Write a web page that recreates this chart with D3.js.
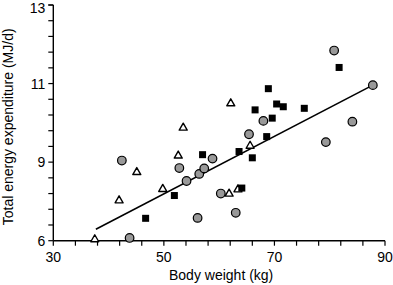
<!DOCTYPE html>
<html>
<head>
<meta charset="utf-8">
<script src="https://cdn.jsdelivr.net/npm/d3@7"></script>
<style>
  html, body { margin: 0; padding: 0; background: #fff; }
  svg { display: block; }
  text { font-family: "Liberation Sans", Arial, Helvetica, sans-serif; fill: #000; }
</style>
</head>
<body>
<svg id="chart" width="393" height="285"></svg>
<script>
// ---- data ----
const triWeight = [37.5, 41.9, 45.1, 49.8, 52.6, 53.5, 62.1, 61.8, 63.4, 65.6];
const triTEE    = [7.05, 8.04, 8.76, 8.33, 9.18, 9.89, 10.51, 8.21, 8.32, 9.43];

const circWeight = [42.4, 43.8, 52.8, 54.1, 56.4, 57.3, 58.8, 60.3, 56.1, 63.0, 65.4, 68.0, 79.3, 84.1, 80.8, 87.8];
const circTEE    = [9.04, 7.07, 8.85, 8.52, 8.70, 8.84, 9.09, 8.20, 7.58, 7.71, 9.71, 10.05, 9.51, 10.03, 11.84, 10.96];

const sqWeight = [46.7, 51.9, 57.0, 63.6, 64.1, 66.0, 66.5, 68.6, 69.6, 68.9, 70.4, 71.6, 75.4, 81.7];
const sqTEE    = [7.57, 8.15, 9.19, 9.27, 8.34, 9.11, 10.33, 9.65, 10.12, 10.87, 10.48, 10.41, 10.37, 11.41];

const fitWeight = [37.7, 87.8];
const fitTEE    = [7.29, 10.96];

const xTickValues = [30, 50, 70, 90];
const xTickLabels = ["30", "50", "70", "90"];
const yTickValues = [7, 9, 11, 13];
const yTickLabels = ["6", "9", "11", "13"];

// ---- chart ----
const svg = d3.select("#chart");
const x = d3.scaleLinear().domain([30, 90]).range([53.3, 385]);
const y = d3.scaleLinear().domain([7, 13]).range([240.7, 5]);

const xMinor = d3.range(30, 90.001, 4);
const yMinor = d3.range(0, 16).map(i => 7 + i * 0.4);

// x axis
const gx = svg.append("g").attr("transform", `translate(0,${y(7)})`);
gx.append("line").attr("x1", x(30)).attr("x2", x(90)).attr("stroke", "#000").attr("stroke-width", 1.4);
gx.selectAll("line.t").data(xMinor).join("line").attr("class", "t")
  .attr("x1", d => x(d)).attr("x2", d => x(d)).attr("y1", 0).attr("y2", 5)
  .attr("stroke", "#000").attr("stroke-width", 1.2);
gx.selectAll("text").data(xTickValues).join("text")
  .attr("x", d => x(d)).attr("y", 21.5).attr("text-anchor", "middle")
  .style("font-size", "14px").text((d, i) => xTickLabels[i]);

// y axis
const gy = svg.append("g").attr("transform", `translate(${x(30)},0)`);
gy.append("line").attr("y1", y(7)).attr("y2", y(13)).attr("stroke", "#000").attr("stroke-width", 1.4);
gy.selectAll("line.t").data(yMinor.concat([13])).join("line").attr("class", "t")
  .attr("y1", d => y(d)).attr("y2", d => y(d)).attr("x1", 0).attr("x2", -5)
  .attr("stroke", "#000").attr("stroke-width", 1.2);
gy.selectAll("text").data(yTickValues).join("text")
  .attr("x", -8).attr("y", d => Math.max(y(d) + 5, 13)).attr("text-anchor", "end")
  .style("font-size", "14px").text((d, i) => yTickLabels[i]);

// axis titles
svg.append("text").attr("x", (x(30) + x(90)) / 2 + 2).attr("y", 280)
  .attr("text-anchor", "middle").style("font-size", "14px").text("Body weight (kg)");
svg.append("text").attr("transform", `translate(13,${(y(7) + y(13)) / 2 + 4}) rotate(-90)`)
  .attr("text-anchor", "middle").style("font-size", "14px").text("Total energy expenditure (MJ/d)");

// regression line
svg.append("line")
  .attr("x1", x(fitWeight[0])).attr("y1", y(fitTEE[0]))
  .attr("x2", x(fitWeight[1])).attr("y2", y(fitTEE[1]))
  .attr("stroke", "#000").attr("stroke-width", 1.6);

// triangles
const triData = triWeight.map((w, i) => [w, triTEE[i]]);
svg.append("g").selectAll("path").data(triData).join("path")
  .attr("d", "M0,-4 L4,3 L-4,3 Z")
  .attr("transform", d => `translate(${x(d[0])},${y(d[1])})`)
  .attr("fill", "#fff").attr("stroke", "#000").attr("stroke-width", 1.4).attr("stroke-linejoin", "round");

// circles
const circData = circWeight.map((w, i) => [w, circTEE[i]]);
svg.append("g").selectAll("circle").data(circData).join("circle")
  .attr("cx", d => x(d[0])).attr("cy", d => y(d[1])).attr("r", 4.3)
  .attr("fill", "#999").attr("stroke", "#000").attr("stroke-width", 1.2);

// squares
const sqData = sqWeight.map((w, i) => [w, sqTEE[i]]);
svg.append("g").selectAll("rect").data(sqData).join("rect")
  .attr("x", d => x(d[0]) - 3.5).attr("y", d => y(d[1]) - 3.5)
  .attr("width", 7).attr("height", 7).attr("fill", "#000");
</script>
</body>
</html>
